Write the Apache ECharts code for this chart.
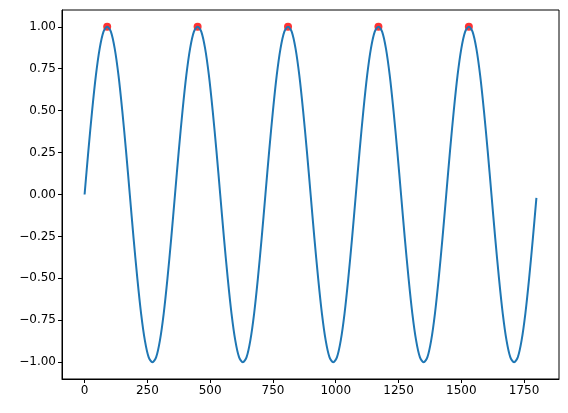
<!DOCTYPE html>
<html>
<head>
<meta charset="utf-8">
<script src="https://cdn.jsdelivr.net/npm/echarts@6/dist/echarts.min.js"></script>
<style>
html,body{margin:0;padding:0;background:#fff;}
#c{width:568px;height:413px;}
</style>
</head>
<body>
<div id="c"></div>
<script>
var xValues = [0,15,30,45,60,75,90,105,120,135,150,165,180,195,210,225,240,255,270,285,300,315,330,345,
360,375,390,405,420,435,450,465,480,495,510,525,540,555,570,585,600,615,630,645,660,675,690,705,
720,735,750,765,780,795,810,825,840,855,870,885,900,915,930,945,960,975,990,1005,1020,1035,1050,1065,
1080,1095,1110,1125,1140,1155,1170,1185,1200,1215,1230,1245,1260,1275,1290,1305,1320,1335,1350,1365,1380,1395,1410,1425,
1440,1455,1470,1485,1500,1515,1530,1545,1560,1575,1590,1605,1620,1635,1650,1665,1680,1695,1710,1725,1740,1755,1770,1785,1799];
var yValues = [0,0.26,0.5,0.71,0.87,0.97,1,0.97,0.87,0.71,0.5,0.26,0,-0.26,-0.5,-0.71,-0.87,-0.97,-1,-0.97,-0.87,-0.71,-0.5,-0.26,
0,0.26,0.5,0.71,0.87,0.97,1,0.97,0.87,0.71,0.5,0.26,0,-0.26,-0.5,-0.71,-0.87,-0.97,-1,-0.97,-0.87,-0.71,-0.5,-0.26,
0,0.26,0.5,0.71,0.87,0.97,1,0.97,0.87,0.71,0.5,0.26,0,-0.26,-0.5,-0.71,-0.87,-0.97,-1,-0.97,-0.87,-0.71,-0.5,-0.26,
0,0.26,0.5,0.71,0.87,0.97,1,0.97,0.87,0.71,0.5,0.26,0,-0.26,-0.5,-0.71,-0.87,-0.97,-1,-0.97,-0.87,-0.71,-0.5,-0.26,
0,0.26,0.5,0.71,0.87,0.97,1,0.97,0.87,0.71,0.5,0.26,0,-0.26,-0.5,-0.71,-0.87,-0.97,-1,-0.97,-0.87,-0.71,-0.5,-0.26,-0.02];
// Peaks
var peakX = [90,450,810,1170,1530];
var peakY = [1,1,1,1,1];
// Tick labels
var xTicks = [0,250,500,750,1000,1250,1500,1750];
var yTicks = [-1,-0.75,-0.5,-0.25,0,0.25,0.5,0.75,1];

var lineData = xValues.map(function(x,i){return [x,yValues[i]];});
var peakData = peakX.map(function(x,i){return [x,peakY[i]];});
var font = {fontFamily:'DejaVu Sans',fontSize:12,color:'#000'};

var chart = echarts.init(document.getElementById('c'),null,{renderer:'canvas'});
chart.setOption({
  animation:false,
  backgroundColor:'#fff',
  grid:{left:62,right:9,top:10,bottom:34,show:true,borderColor:'#000',borderWidth:1,backgroundColor:'transparent'},
  xAxis:{type:'value',min:-89.95,max:1888.95,position:'bottom',
    axisLine:{show:true,onZero:false,lineStyle:{color:'#000',width:1}},
    splitLine:{show:false},
    axisTick:{show:true,length:4,lineStyle:{color:'#000',width:1},customValues:xTicks},
    axisLabel:Object.assign({margin:6,customValues:xTicks,formatter:function(v){return String(v);}},font)
  },
  yAxis:{type:'value',min:-1.1,max:1.1,position:'left',
    axisLine:{show:true,onZero:false,lineStyle:{color:'#000',width:1}},
    splitLine:{show:false},
    axisTick:{show:true,length:4,lineStyle:{color:'#000',width:1},customValues:yTicks},
    axisLabel:Object.assign({margin:6,customValues:yTicks,formatter:function(v){return v.toFixed(2).replace('-','\u2212');}},font)
  },
  series:[
    {type:'scatter',data:peakData,symbolSize:8,itemStyle:{color:'#ff0000'},z:2},
    {type:'line',data:lineData,showSymbol:false,smooth:0.3,lineStyle:{color:'#1f77b4',width:2},z:3}
  ]
});
</script>
</body>
</html>
